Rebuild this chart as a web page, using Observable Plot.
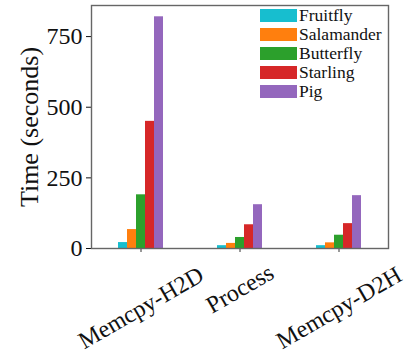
<!DOCTYPE html>
<html>
<head>
<meta charset="utf-8">
<script src="https://cdn.jsdelivr.net/npm/d3@7"></script>
<script src="https://cdn.jsdelivr.net/npm/@observablehq/plot@0.6"></script>
<style>
  html, body { margin: 0; padding: 0; background: #fff; }
  #wrap { position: relative; width: 407px; height: 355px; font-family: "Liberation Serif", serif; }
  #legend { position: absolute; font-family: "Liberation Serif", serif; color: #111; }
  .row { display: flex; align-items: center; height: 19px; }
  .sw { width: 37px; height: 13px; margin-right: 2px; }
</style>
</head>
<body>
<div id="wrap"></div>
<script>
const categories = ["Memcpy-H2D", "Process", "Memcpy-D2H"];
const species = ["Fruitfly", "Salamander", "Butterfly", "Starling", "Pig"];
const fruitfly = [21, 10, 10];
const salamander = [67, 18, 20];
const butterfly = [190, 39, 47];
const starling = [450, 84, 88];
const pig = [820, 155, 187];
const colors = ["#17becf", "#ff7f0e", "#2ca02c", "#d62728", "#9467bd"];
const yTicks = [0, 250, 500, 750];
const yLabel = "Time (seconds)";

const series = [fruitfly, salamander, butterfly, starling, pig];
const data = [];
categories.forEach((c, i) => species.forEach((s, j) => data.push({category: c, species: s, value: series[j][i]})));

const fontFamily = "Liberation Serif";
const tickFont = 24;
const canvas = document.createElement("canvas");
const ctx = canvas.getContext("2d");
ctx.font = `${tickFont}px "${fontFamily}"`;

const fxLabelMarks = categories.map(c => {
  const w = ctx.measureText(c).width;
  const dy = 19.5 + 0.57 * (w / 2);
  return Plot.text([c], {fx: d => d, text: d => d, frameAnchor: "bottom", rotate: -30, dy, textAnchor: "middle", lineAnchor: "middle", fontSize: tickFont, fill: "#111"});
});

const plot = Plot.plot({
  width: 407,
  height: 355,
  marginLeft: 90,
  marginRight: 19,
  marginTop: 5,
  marginBottom: 107,
  style: {fontFamily, background: "white", color: "#111"},
  fx: {domain: categories, padding: 0, axis: null, label: null},
  x: {domain: species, padding: 0, insetLeft: 25, insetRight: 24.3, axis: null},
  y: {domain: [0, 860], ticks: yTicks, label: null, axis: null},
  color: {domain: species, range: colors},
  marks: [
    Plot.barY(data, {fx: "category", x: "species", y: "value", fill: "species", inset: 0}),
    Plot.axisY({ticks: yTicks, tickSize: 5, tickPadding: 4, fontSize: tickFont, label: null}),
    Plot.axisFx({anchor: "bottom", tickSize: 4, tickFormat: () => "", label: null, stroke: "#333"}),
    Plot.frame({stroke: "#666", strokeWidth: 1.4, facet: "super"}),
    Plot.text([yLabel], {text: d => d, frameAnchor: "left", rotate: -90, dx: -62, textAnchor: "middle", lineAnchor: "middle", fontSize: 26, fill: "#111", facet: "super"}),
    ...fxLabelMarks
  ]
});

document.getElementById("wrap").appendChild(plot);

const legend = document.createElement("div");
legend.id = "legend";
legend.style.left = "260px";
legend.style.top = "6px";
legend.style.fontSize = "17.5px";
species.forEach((s, j) => {
  const row = document.createElement("div");
  row.className = "row";
  const sw = document.createElement("div");
  sw.className = "sw";
  sw.style.background = colors[j];
  const t = document.createElement("span");
  t.textContent = s;
  row.appendChild(sw);
  row.appendChild(t);
  legend.appendChild(row);
});
document.getElementById("wrap").appendChild(legend);
</script>
</body>
</html>
